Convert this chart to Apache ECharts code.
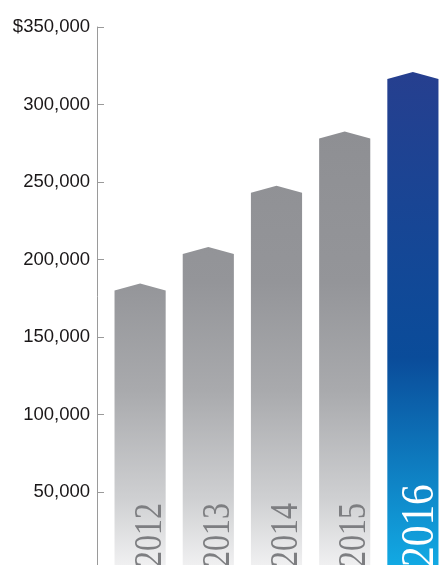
<!DOCTYPE html>
<html>
<head>
<meta charset="utf-8">
<script src="https://cdn.jsdelivr.net/npm/echarts@6/dist/echarts.min.js"></script>
<style>
html,body{margin:0;padding:0;background:#fff;}
#c{width:444px;height:565px;}
</style>
</head>
<body>
<div id="c"></div>
<script>
const years = ['2012', '2013', '2014', '2015', '2016'];
const amounts = [180000, 203500, 243000, 278000, 316500];
const highlightYear = '2016';

const chart = echarts.init(document.getElementById('c'), null, {renderer: 'canvas'});

const grayFill = new echarts.graphic.LinearGradient(0, 130, 0, 565, [
  {offset: 0, color: '#8e8f93'},
  {offset: 0.35, color: '#949599'},
  {offset: 0.6, color: '#a9aaad'},
  {offset: 0.85, color: '#cfd0d2'},
  {offset: 1, color: '#f0f0f1'}
], true);
const blueFill = new echarts.graphic.LinearGradient(0, 72, 0, 565, [
  {offset: 0, color: '#263f8f'},
  {offset: 0.58, color: '#0a4c9a'},
  {offset: 1, color: '#12a9e3'}
], true);

function fmt(v) {
  const s = v.toLocaleString('en-US');
  return v === 350000 ? '$' + s : s;
}

chart.setOption({
  animation: false,
  grid: {left: 106, right: -3, top: 27, bottom: -4.5, containLabel: false, outerBoundsMode: 'none'},
  xAxis: {
    type: 'category',
    data: years,
    axisLine: {show: false},
    axisTick: {show: false},
    axisLabel: {show: false}
  },
  yAxis: {
    type: 'value',
    min: 0,
    max: 350000,
    interval: 50000,
    offset: 9,
    splitLine: {show: false},
    axisLine: {show: true, lineStyle: {color: '#9a9a9a', width: 1}},
    axisTick: {show: true, inside: true, length: 7, lineStyle: {color: '#9a9a9a', width: 1}},
    axisLabel: {
      margin: 7,
      color: '#1a1718',
      fontFamily: 'Liberation Sans',
      fontSize: 18.5,
      formatter: function (v) { return v === 0 ? '' : fmt(v); }
    }
  },
  series: [{
    type: 'custom',
    data: years.map((y, i) => [i, amounts[i]]),
    renderItem: function (params, api) {
      const i = api.value(0);
      const top = api.coord([i, api.value(1)]);
      const base = api.coord([i, 0]);
      const bw = api.size([1, 0])[0] * 0.75;
      const cx = top[0];
      const x0 = cx - bw / 2, x1 = cx + bw / 2;
      const peak = 7;
      const hi = years[i] === highlightYear;
      return {
        type: 'group',
        children: [{
          type: 'polygon',
          shape: {points: [[x0, base[1]], [x0, top[1]], [cx, top[1] - peak], [x1, top[1]], [x1, base[1]]]},
          style: {fill: hi ? blueFill : grayFill}
        }, {
          type: 'text',
          x: cx + (hi ? 8 : 10),
          y: 567,
          rotation: Math.PI / 2,
          scaleX: hi ? 0.9 : 0.8,
          style: {
            text: years[i],
            fontFamily: 'Liberation Serif',
            fontSize: hi ? 46 : 40,
            fill: hi ? '#ffffff' : '#7d7e81',
            align: 'left',
            verticalAlign: 'middle'
          }
        }]
      };
    }
  }]
});
</script>
</body>
</html>
